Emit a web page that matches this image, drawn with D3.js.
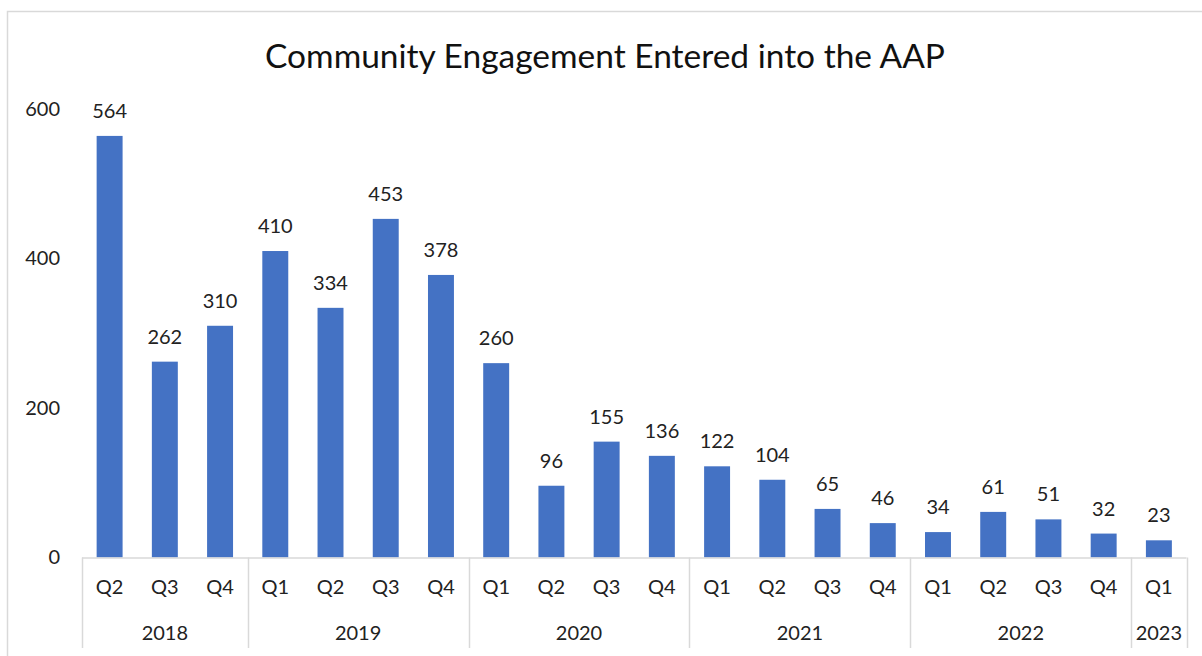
<!DOCTYPE html>
<html>
<head>
<meta charset="utf-8">
<script src="https://cdn.jsdelivr.net/npm/d3@7"></script>
<style>
  html, body { margin: 0; padding: 0; background: #fff; }
  svg { display: block; font-family: Lato, "Open Sans", sans-serif; }
</style>
</head>
<body>
<svg id="chart" width="1202" height="656"></svg>
<script>
// Quarterly counts of community engagement entries
const quarters = ["Q2","Q3","Q4","Q1","Q2","Q3","Q4","Q1","Q2","Q3","Q4","Q1","Q2","Q3","Q4","Q1","Q2","Q3","Q4","Q1"];
const years    = ["2018","2018","2018","2019","2019","2019","2019","2020","2020","2020","2020","2021","2021","2021","2021","2022","2022","2022","2022","2023"];
const values   = [564, 262, 310, 410, 334, 453, 378, 260, 96, 155, 136, 122, 104, 65, 46, 34, 61, 51, 32, 23];
const yTicks   = [0, 200, 400, 600];
const title    = "Community Engagement Entered into the AAP";

const svg = d3.select("#chart");
const W = 1202, H = 656;
const barColor = "#4472C4";
const textColor = "#222";
const lineColor = "#d9d9d9";
const labelSize = "20px";

// chart frame (left and top edges)
svg.append("path")
  .attr("d", `M7.5,${H} V11.5 H${W}`)
  .attr("fill", "none")
  .attr("stroke", lineColor)
  .attr("stroke-width", 1.5);

const plot = { left: 82, right: 1186.5, top: 109, bottom: 557.5 };

const x = d3.scaleBand()
  .domain(d3.range(values.length))
  .range([plot.left, plot.right])
  .paddingInner(0.53)
  .paddingOuter(0.265);

const y = d3.scaleLinear()
  .domain([0, 600])
  .range([plot.bottom, plot.top]);

// title, sized to its measured width
const t = svg.append("text")
  .attr("x", 605)
  .attr("y", 68)
  .attr("text-anchor", "middle")
  .attr("fill", "#111")
  .style("font-size", "30px")
  .text(title);
const tw = t.node().getComputedTextLength();
t.style("font-size", (30 * 680 / tw).toFixed(2) + "px");

// y axis labels (no axis line)
const yAxis = d3.axisLeft(y).tickValues(yTicks).tickSize(0).tickPadding(0);
const yg = svg.append("g").attr("transform", "translate(60,0)").call(yAxis);
yg.select(".domain").remove();
yg.selectAll("text")
  .attr("fill", textColor)
  .style("font-size", labelSize)
  .style("font-family", "Lato, 'Open Sans', sans-serif");

// bars
svg.append("g").selectAll("rect")
  .data(values)
  .join("rect")
  .attr("x", (d, i) => x(i))
  .attr("y", d => y(d))
  .attr("width", x.bandwidth())
  .attr("height", d => y(0) - y(d))
  .attr("fill", barColor);

// value labels
svg.append("g").selectAll("text")
  .data(values)
  .join("text")
  .attr("x", (d, i) => x(i) + x.bandwidth() / 2)
  .attr("y", d => y(d) - 18)
  .attr("text-anchor", "middle")
  .attr("fill", textColor)
  .style("font-size", labelSize)
  .text(d => d);

// category axis baseline
svg.append("line")
  .attr("x1", plot.left).attr("x2", plot.right)
  .attr("y1", plot.bottom + 0.5).attr("y2", plot.bottom + 0.5)
  .attr("stroke", lineColor).attr("stroke-width", 1.5);

// quarter labels
const step = x.step();
const catX = i => x(i) + x.bandwidth() / 2;
svg.append("g").selectAll("text")
  .data(quarters)
  .join("text")
  .attr("x", (d, i) => catX(i))
  .attr("y", 594)
  .attr("text-anchor", "middle")
  .attr("fill", textColor)
  .style("font-size", labelSize)
  .text(d => d);

// year groups and separators
const groups = d3.groups(years.map((yr, i) => ({ yr, i })), d => d.yr)
  .map(([yr, arr]) => ({ yr, first: arr[0].i, last: arr[arr.length - 1].i }));
const edge = i => plot.left + i * step;   // left boundary of category i

const bounds = groups.map(g => edge(g.first)).concat([plot.right]);
svg.append("g").selectAll("line")
  .data(bounds)
  .join("line")
  .attr("x1", d => Math.round(d) + 0.5).attr("x2", d => Math.round(d) + 0.5)
  .attr("y1", plot.bottom).attr("y2", 648)
  .attr("stroke", lineColor).attr("stroke-width", 1.5);

svg.append("g").selectAll("text")
  .data(groups)
  .join("text")
  .attr("x", g => (edge(g.first) + edge(g.last + 1)) / 2)
  .attr("y", 640)
  .attr("text-anchor", "middle")
  .attr("fill", textColor)
  .style("font-size", labelSize)
  .text(g => g.yr);
</script>
</body>
</html>
